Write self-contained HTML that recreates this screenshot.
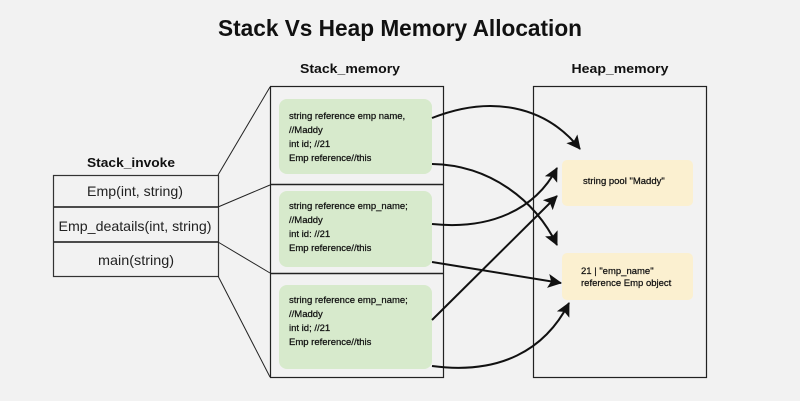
<!DOCTYPE html>
<html><head><meta charset="utf-8"><style>
html,body{margin:0;padding:0;background:#f2f2f2;}
svg{display:block;}
text{font-family:"Liberation Sans",sans-serif;}
</style></head><body>
<svg width="800" height="401" viewBox="0 0 800 401" xmlns="http://www.w3.org/2000/svg">
<defs>
<marker id="a" markerWidth="14" markerHeight="14" refX="13" refY="7" orient="auto" markerUnits="userSpaceOnUse">
<path d="M0,0 L14,7 L0,14 L3,7 z" fill="#111"/>
</marker>
</defs>
<rect width="800" height="401" fill="#f2f2f2"/>
<text x="400" y="36" text-anchor="middle" font-size="23" font-weight="bold" fill="#111" textLength="364" lengthAdjust="spacingAndGlyphs">Stack Vs Heap Memory Allocation</text>
<text x="350" y="73" text-anchor="middle" font-size="13" font-weight="bold" fill="#111" textLength="100" lengthAdjust="spacingAndGlyphs">Stack_memory</text>
<text x="620" y="73" text-anchor="middle" font-size="13" font-weight="bold" fill="#111" textLength="97" lengthAdjust="spacingAndGlyphs">Heap_memory</text>
<text x="131" y="167" text-anchor="middle" font-size="13" font-weight="bold" fill="#111" textLength="88" lengthAdjust="spacingAndGlyphs">Stack_invoke</text>

<g stroke="#333" stroke-width="1.2" fill="none">
<rect x="53.5" y="175.5" width="165" height="101"/>
<line x1="53" y1="207" x2="218" y2="207" stroke-width="1.8"/>
<line x1="53" y1="242" x2="218" y2="242" stroke-width="1.8"/>
</g>
<g font-size="14" fill="#222" text-anchor="middle">
<text x="135" y="196" textLength="96" lengthAdjust="spacingAndGlyphs">Emp(int, string)</text>
<text x="135" y="231" textLength="153" lengthAdjust="spacingAndGlyphs">Emp_deatails(int, string)</text>
<text x="136" y="265" textLength="76" lengthAdjust="spacingAndGlyphs">main(string)</text>
</g>
<g stroke="#222" stroke-width="1">
<line x1="218" y1="175" x2="270" y2="87"/>
<line x1="218" y1="207" x2="270" y2="185"/>
<line x1="218" y1="242" x2="270" y2="273"/>
<line x1="218" y1="276" x2="270" y2="377"/>
</g>
<rect x="270.5" y="86.5" width="173" height="291" fill="none" stroke="#222" stroke-width="1.2"/>
<line x1="270" y1="184.5" x2="443" y2="184.5" stroke="#222" stroke-width="1.5"/>
<line x1="270" y1="273.5" x2="443" y2="273.5" stroke="#222" stroke-width="1.5"/>
<g fill="#d7eacc">
<rect x="279" y="99" width="153" height="75" rx="8"/>
<rect x="279" y="191" width="153" height="76" rx="8"/>
<rect x="279" y="285" width="153" height="84" rx="8"/>
</g>
<g font-size="9.5" fill="#111" stroke="#111" stroke-width="0.25">
<text x="289" y="119">string reference emp name,</text>
<text x="289" y="133">//Maddy</text>
<text x="289" y="147">int id; //21</text>
<text x="289" y="161">Emp reference//this</text>
<text x="289" y="209">string reference emp_name;</text>
<text x="289" y="223">//Maddy</text>
<text x="289" y="237">int id: //21</text>
<text x="289" y="251">Emp reference//this</text>
<text x="289" y="303">string reference emp_name;</text>
<text x="289" y="317">//Maddy</text>
<text x="289" y="331">int id; //21</text>
<text x="289" y="345">Emp reference//this</text>
</g>
<rect x="533.5" y="86.5" width="173" height="291" fill="none" stroke="#222" stroke-width="1.2"/>
<g fill="#fbf0d0">
<rect x="562" y="160" width="131" height="46" rx="5"/>
<rect x="562" y="253" width="131" height="47" rx="5"/>
</g>
<g font-size="9.5" fill="#111" stroke="#111" stroke-width="0.25">
<text x="583" y="184">string pool "Maddy"</text>
<text x="581" y="274">21 | "emp_name"</text>
<text x="581" y="286">reference Emp object</text>
</g>
<g stroke="#111" stroke-width="2" fill="none" marker-end="url(#a)">
<path d="M432,118 C490,95 545,105 580,149"/>
<path d="M432,164 C490,165 535,200 557,245"/>
<path d="M432,224 C490,230 535,210 557,168"/>
<path d="M432,262 L561,283"/>
<path d="M432,320 L557,196"/>
<path d="M432,366 C500,375 545,350 569,303"/>
</g>
</svg>
</body></html>
